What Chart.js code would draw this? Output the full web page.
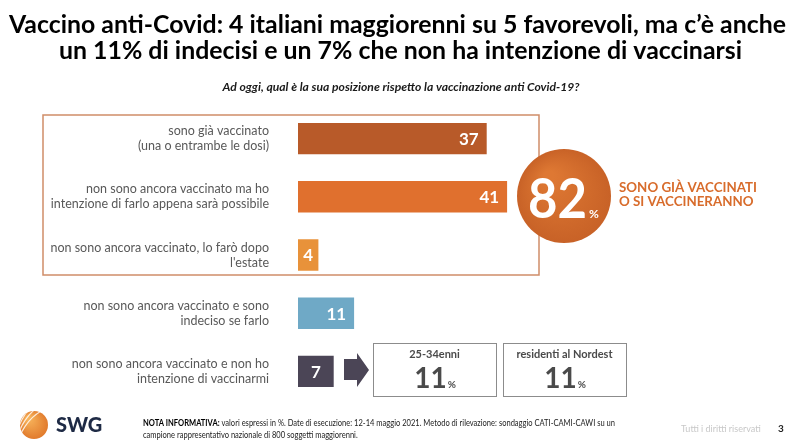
<!DOCTYPE html>
<html>
<head>
<meta charset="utf-8">
<script src="https://cdn.jsdelivr.net/npm/chart.js@4.4.1/dist/chart.umd.min.js"></script>
<style>
  html, body { margin: 0; padding: 0; background: #fff; }
  #vaxChart { display: block; }
</style>
</head>
<body>
<canvas id="vaxChart" width="800" height="448"></canvas>
<script>
// data
var categories = [
    ["sono già vaccinato", "(una o entrambe le dosi)"],
    ["non sono ancora vaccinato ma ho", "intenzione di farlo appena sarà possibile"],
    ["non sono ancora vaccinato, lo farò dopo", "l'estate"],
    ["non sono ancora vaccinato e sono", "indeciso se farlo"],
    ["non sono ancora vaccinato e non ho", "intenzione di vaccinarmi"]
];
var values = [37, 41, 4, 11, 7];
var barColors = ["#B85A29", "#E0702E", "#E8923A", "#6FA9C6", "#4B4556"];
var totalFavorevoli = 82;
var subgroupLabels = ["25-34enni", "residenti al Nordest"];
var subgroupValues = [11, 11];

var titleLines = [
    "Vaccino anti-Covid: 4 italiani maggiorenni su 5 favorevoli, ma c’è anche",
    "un 11% di indecisi e un 7% che non ha intenzione di vaccinarsi"
];
var question = "Ad oggi, qual è la sua posizione rispetto la vaccinazione anti Covid-19?";

var FONT = "Lato, 'Open Sans', sans-serif";

// draw text squeezed/stretched to a given width
function fitText(ctx, text, cx, y, font, width, color) {
    ctx.save();
    ctx.font = font;
    ctx.fillStyle = color;
    ctx.textAlign = "center";
    ctx.textBaseline = "alphabetic";
    var w = ctx.measureText(text).width;
    ctx.translate(cx, y);
    ctx.scale(width / w, 1);
    ctx.fillText(text, 0, 0);
    ctx.restore();
}

var decorPlugin = {
    id: "decor",
    beforeDatasetsDraw: function (chart) {
        var ctx = chart.ctx;
        // orange frame around the favourable answers
        ctx.save();
        ctx.strokeStyle = "#CF8D68";
        ctx.lineWidth = 1.5;
        ctx.strokeRect(43, 115, 496, 160);
        ctx.restore();
    },
    afterDatasetsDraw: function (chart) {
        var ctx = chart.ctx;

        // values inside bars
        var meta = chart.getDatasetMeta(0);
        ctx.save();
        ctx.font = "bold 17px " + FONT;
        ctx.fillStyle = "#fff";
        ctx.textBaseline = "middle";
        meta.data.forEach(function (bar, i) {
            var w = bar.x - bar.base;
            if (w < 45) {
                ctx.textAlign = "center";
                ctx.fillText(values[i], bar.base + w / 2, bar.y + 1);
            } else {
                ctx.textAlign = "right";
                ctx.fillText(values[i], bar.x - 8, bar.y + 1);
            }
        });
        ctx.restore();

        // title + question
        fitText(ctx, titleLines[0], 397.5, 33, "bold 24px " + FONT, 777, "#000");
        fitText(ctx, titleLines[1], 400.5, 59, "bold 24px " + FONT, 683, "#000");
        fitText(ctx, question, 401, 91, "italic bold 11px " + FONT, 357, "#1a1a1a");

        // big circle
        var cx = 564, cy = 196, r = 47;
        var g = ctx.createRadialGradient(cx - 15, cy - 20, 5, cx, cy, r);
        g.addColorStop(0, "#DE7833");
        g.addColorStop(1, "#C86227");
        ctx.save();
        ctx.beginPath();
        ctx.arc(cx, cy, r, 0, Math.PI * 2);
        ctx.fillStyle = g;
        ctx.fill();
        ctx.fillStyle = "#fff";
        ctx.textBaseline = "alphabetic";
        ctx.textAlign = "left";
        ctx.font = "bold 56px " + FONT;
        var txt = String(totalFavorevoli);
        var tw = ctx.measureText(txt).width;
        ctx.save();
        ctx.translate(528, 218);
        ctx.scale(59 / tw, 1);
        ctx.fillText(txt, 0, 0);
        ctx.restore();
        ctx.font = "bold 12px " + FONT;
        ctx.fillText("%", 589, 218);
        ctx.restore();

        ctx.save();
        ctx.textAlign = "left";
        ctx.fillStyle = "#D86C2C";
        ctx.font = "bold 13px " + FONT;
        var l1 = "SONO GIÀ VACCINATI", l2 = "O SI VACCINERANNO";
        var s = 138 / ctx.measureText(l1).width;
        ctx.save(); ctx.translate(619, 192); ctx.scale(s, 1); ctx.fillText(l1, 0, 0); ctx.restore();
        ctx.save(); ctx.translate(619, 206); ctx.scale(s, 1); ctx.fillText(l2, 0, 0); ctx.restore();
        ctx.restore();

        // arrow
        ctx.save();
        ctx.fillStyle = "#4B4556";
        ctx.beginPath();
        ctx.moveTo(344, 359);
        ctx.lineTo(357, 359);
        ctx.lineTo(357, 353);
        ctx.lineTo(369, 370);
        ctx.lineTo(357, 387);
        ctx.lineTo(357, 380);
        ctx.lineTo(344, 380);
        ctx.closePath();
        ctx.fill();
        ctx.restore();

        // subgroup boxes
        var boxX = [373, 503];
        ctx.save();
        for (var k = 0; k < subgroupLabels.length; k++) {
            var bx = boxX[k], by = 343, bw = 123, bh = 53;
            ctx.strokeStyle = "#8C8C8C";
            ctx.lineWidth = 1;
            ctx.strokeRect(bx + 0.5, by + 0.5, bw, bh);
            ctx.fillStyle = "#4a4a4a";
            ctx.textAlign = "center";
            ctx.font = "bold 11px " + FONT;
            ctx.fillText(subgroupLabels[k], bx + bw / 2, by + 15);
            ctx.font = "bold 28px " + FONT;
            var num = String(subgroupValues[k]);
            var nw = ctx.measureText(num).width;
            ctx.font = "bold 10px " + FONT;
            var pw = ctx.measureText("%").width;
            var startX = bx + bw / 2 - (nw + pw) / 2;
            ctx.textAlign = "left";
            ctx.font = "bold 28px " + FONT;
            ctx.fillText(num, startX, by + 45);
            ctx.font = "bold 10px " + FONT;
            ctx.fillText("%", startX + nw + 1, by + 45);
        }
        ctx.restore();

        // footer: logo
        ctx.save();
        var lg = ctx.createRadialGradient(28, 418, 2, 34, 425, 15);
        lg.addColorStop(0, "#F7B25A");
        lg.addColorStop(1, "#E0782A");
        ctx.beginPath();
        ctx.arc(34, 425, 14, 0, Math.PI * 2);
        ctx.fillStyle = lg;
        ctx.fill();
        ctx.clip();
        ctx.strokeStyle = "rgba(255,255,255,0.8)";
        ctx.lineWidth = 1.2;
        for (var j = -3; j <= 3; j++) {
            ctx.beginPath();
            ctx.ellipse(50, 425 + j * 6, 30, 40, 0.6, Math.PI * 0.8, Math.PI * 1.2);
            ctx.stroke();
        }
        ctx.restore();

        ctx.save();
        ctx.fillStyle = "#1E2A45";
        ctx.font = "900 20px " + FONT;
        ctx.textAlign = "left";
        ctx.fillText("SWG", 56, 432);
        ctx.restore();

        // footer note
        ctx.save();
        ctx.textAlign = "left";
        var bold = "NOTA INFORMATIVA:";
        var rest = " valori espressi in %. Date di esecuzione: 12-14 maggio 2021. Metodo di rilevazione: sondaggio CATI-CAMI-CAWI su un";
        ctx.font = "bold 9px " + FONT;
        var bw1 = ctx.measureText(bold).width;
        ctx.font = "9px " + FONT;
        var rw = ctx.measureText(rest).width;
        var fs = 472 / (bw1 + rw);
        ctx.translate(143, 426);
        ctx.scale(fs, 1);
        ctx.fillStyle = "#000";
        ctx.font = "bold 9px " + FONT;
        ctx.fillText(bold, 0, 0);
        ctx.fillStyle = "#222";
        ctx.font = "9px " + FONT;
        ctx.fillText(rest, bw1, 0);
        ctx.fillText("campione rappresentativo nazionale di 800 soggetti maggiorenni.", 0, 12);
        ctx.restore();

        ctx.save();
        ctx.textAlign = "left";
        ctx.fillStyle = "#C8C8C8";
        ctx.font = "9px " + FONT;
        ctx.fillText("Tutti i diritti riservati", 681, 432);
        ctx.fillStyle = "#222";
        ctx.font = "bold 10px " + FONT;
        ctx.fillText("3", 778, 432);
        ctx.restore();
    }
};

var vaxChart = new Chart(document.getElementById("vaxChart").getContext("2d"), {
    type: "bar",
    data: {
        labels: categories,
        datasets: [{
            data: values,
            backgroundColor: barColors,
            borderWidth: 0,
            barPercentage: 0.54,
            categoryPercentage: 1
        }]
    },
    options: {
        indexAxis: "y",
        responsive: false,
        animation: false,
        layout: {
            padding: { top: 109.5, bottom: 47.5, left: 0, right: 196 }
        },
        plugins: {
            legend: { display: false },
            tooltip: { enabled: false }
        },
        scales: {
            x: { display: false, min: 0, max: 60 },
            y: {
                grid: { display: false },
                border: { display: false },
                afterFit: function (scale) { scale.width = 298; },
                ticks: {
                    padding: 21,
                    color: "#595959",
                    font: { family: FONT, size: 12.5, lineHeight: 1.2 }
                }
            }
        }
    },
    plugins: [decorPlugin]
});
</script>
</body>
</html>
